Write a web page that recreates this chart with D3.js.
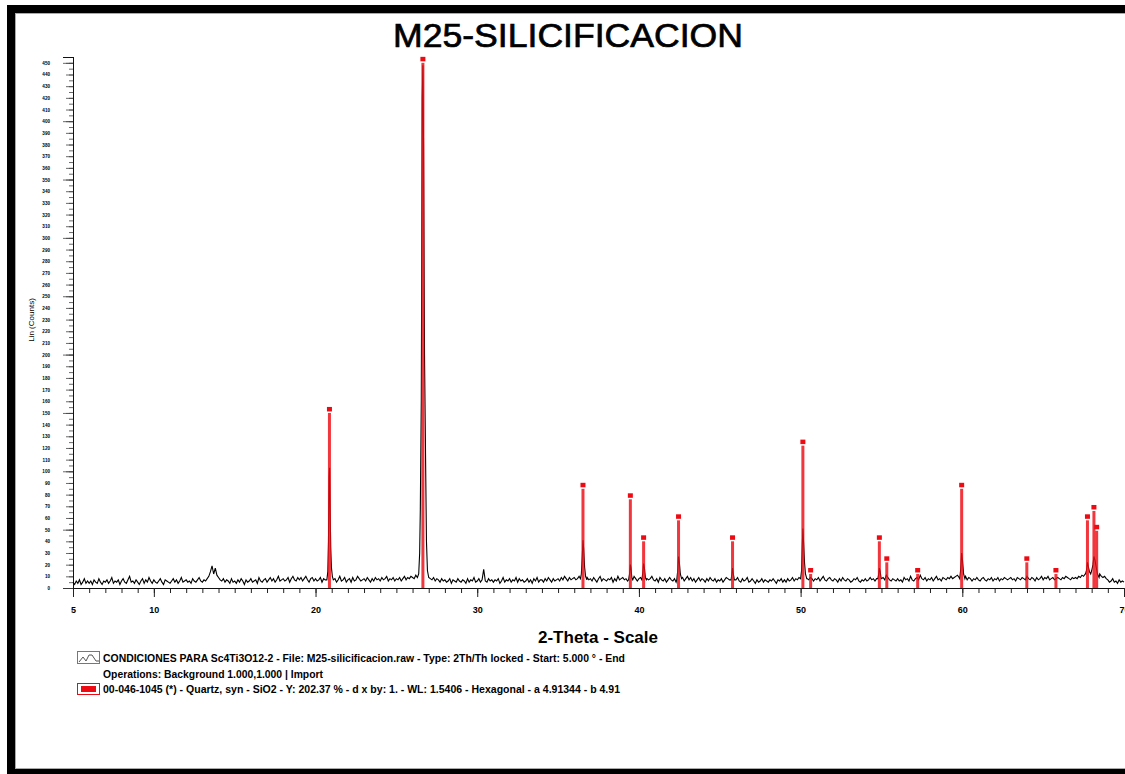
<!DOCTYPE html>
<html>
<head>
<meta charset="utf-8">
<script src="https://cdn.jsdelivr.net/npm/d3@7"></script>
<style>
  html, body { margin: 0; padding: 0; background: #fff; }
  svg { display: block; }
</style>
</head>
<body>
<svg id="chart" width="1125" height="774"></svg>
<script>
// ---- Scan: Lin (Counts) every 0.1 deg 2-theta, starting at 5.0 ----
const scanStart = 5.0;
const scanStep = 0.1;
const scanCounts = [
  5,3,6,4,7,3,5,8,4,6,   4,6,3,7,5,4,8,5,3,6,   5,7,4,6,9,4,6,5,7,3,   6,8,5,4,7,10,5,6,4,7,
  5,3,6,8,4,7,5,9,6,4,   7,5,4,6,8,5,3,7,6,5,   4,6,8,5,7,4,6,9,5,6,   7,5,6,4,8,6,5,7,9,6,
  5,7,6,8,10,14,19,12,17,11, 9,7,6,8,5,7,6,4,8,5, 6,4,7,5,8,6,3,7,5,6, 8,5,6,7,4,9,6,5,7,8,
  5,7,9,6,8,5,7,10,6,7,  8,6,7,9,5,8,10,7,6,9,  7,9,6,8,10,7,5,8,9,6,  8,6,7,9,5,8,7,6,8,7,
  9,6,8,5,7,10,6,7,9,5,  7,8,5,9,6,7,10,8,6,7,  8,6,9,7,5,8,6,9,7,8,   6,9,7,8,10,6,8,7,9,6,
  8,7,9,6,8,10,7,9,8,10, 9,8,11,9,10,12,14,13,11,10, 9,8,7,9,6,8,7,5,8,6, 7,5,6,8,4,7,6,5,8,6,
  5,7,6,4,8,5,7,6,9,5,   6,8,5,7,16,6,5,8,6,7,  5,7,6,8,4,6,9,5,7,6,   8,5,7,6,9,5,8,6,7,5,
  6,8,5,7,4,8,6,9,5,7,   7,5,8,6,9,7,5,8,6,7,   8,6,9,7,10,8,6,9,7,8,  9,7,8,10,8,9,8,8,9,7,
  8,6,9,7,5,8,10,6,8,7,  6,8,7,9,5,8,6,10,7,8,  9,7,8,6,9,8,7,10,8,6,  8,9,7,6,9,8,7,8,10,7,
  6,8,5,9,7,6,8,5,7,9,   7,6,8,5,9,8,7,9,6,8,   10,7,9,6,8,5,7,9,6,8,  7,5,8,6,9,7,6,8,5,7,
  6,8,5,7,9,8,7,6,8,5,   7,9,6,5,8,6,7,9,5,6,   8,6,4,7,5,6,8,5,7,6,   5,7,6,8,6,4,7,6,8,5,
  7,5,8,6,7,9,6,8,7,9,   8,10,9,11,8,7,9,8,6,8, 7,9,6,8,10,7,6,8,9,7,  6,8,7,5,8,6,9,7,6,8,
  7,5,6,8,7,9,6,5,7,6,   8,6,7,9,7,8,6,8,9,7,   8,9,7,11,9,7,6,8,7,6,  8,6,7,5,9,7,8,6,10,7,
  6,8,9,7,11,8,7,9,6,8,  7,9,6,8,10,7,8,6,9,8,  7,9,8,10,8,9,10,11,9,10, 9,8,10,7,9,8,6,8,7,9,
  7,6,8,9,7,6,8,7,9,6,   8,7,9,6,8,7,9,8,7,8,   9,7,8,6,9,8,7,9,8,7,   10,8,7,9,8,6,9,7,8,10,
  7,9,8,10,7,8,9,7,8,9,  8,7,9,8,10,9,8,7,9,8,  9,8,10,9,11,10,12,14,16,14, 18,20,14,16,15,12,10,9,10,8,
  7,5,6,8,5,6,4,7,5,6,
  5
];

// ---- Peak profiles sampled more finely (replace the coarse scan inside their range) ----
const profileTheta = [
  [20.70, 20.76, 20.80, 20.84, 20.87, 20.90, 20.94, 20.98, 21.04, 21.10],
  [26.30, 26.38, 26.44, 26.48, 26.54, 26.60, 26.64, 26.68, 26.74, 26.80, 26.86, 26.92, 27.00],
  [36.38, 36.44, 36.50, 36.54, 36.58, 36.64, 36.70, 36.78],
  [39.36, 39.42, 39.47, 39.51, 39.56, 39.62],
  [40.18, 40.24, 40.29, 40.34, 40.40, 40.46],
  [42.34, 42.40, 42.45, 42.50, 42.56, 42.64],
  [45.70, 45.75, 45.79, 45.84, 45.90],
  [50.00, 50.06, 50.10, 50.14, 50.18, 50.24, 50.30, 50.38],
  [54.78, 54.83, 54.87, 54.92, 54.98],
  [59.84, 59.90, 59.96, 60.01, 60.08, 60.16],
  [67.62, 67.68, 67.74, 67.80, 67.86, 67.94, 68.02, 68.08, 68.14, 68.20, 68.28, 68.36, 68.46]
];
const profileCounts = [
  [7, 14, 40, 95, 103, 70, 35, 18, 10, 7],
  [9, 12, 30, 67, 160, 420, 448, 380, 200, 118, 40, 15, 9],
  [8, 12, 28, 41, 34, 18, 10, 7],
  [7, 12, 20, 17, 9, 7],
  [7, 13, 21, 17, 9, 7],
  [7, 15, 27, 22, 12, 8],
  [7, 12, 17, 12, 7],
  [8, 15, 35, 51, 40, 22, 12, 8],
  [8, 12, 17, 14, 8],
  [8, 16, 30, 24, 12, 8],
  [12, 15, 22, 18, 14, 12, 16, 20, 27, 24, 18, 12, 9]
];

// ---- Reference pattern 00-046-1045 Quartz (stick positions and scaled heights) ----
const quartzTheta  = [20.86, 26.64, 36.54, 39.47, 40.29, 42.45, 45.79, 50.14, 50.62, 54.87, 55.33, 57.24, 59.96, 63.99, 65.79, 67.74, 68.14, 68.31];
const quartzCounts = [150, 450, 85, 76, 40, 58, 40, 122, 12, 40, 22, 12, 85, 22, 12, 58, 66, 49];

// ---- Axis ticks ----
const xMajorTicks = [5, 10, 20, 30, 40, 50, 60, 70];
const xMinorTicks = d3.range(5, 71, 1);
const yLabelTicks = d3.range(0, 451, 10);
const yMinorTicks = d3.range(0, 456, 5);
const yLongTicks = d3.range(0, 451, 50);

// ---- Texts ----
const chartTitle = "M25-SILICIFICACION";
const xTitle = "2-Theta - Scale";
const yTitle = "Lin (Counts)";
const legendLines = [
  "CONDICIONES PARA Sc4Ti3O12-2 - File: M25-silicificacion.raw - Type: 2Th/Th locked - Start: 5.000 \u00B0 - End",
  "Operations: Background 1.000,1.000 | Import",
  "00-046-1045 (*) - Quartz, syn - SiO2 - Y: 202.37 % - d x by: 1. - WL: 1.5406 - Hexagonal - a 4.91344 - b 4.91"
];

(function draw() {
  const svg = d3.select("#chart");
  const W = 1125, H = 774;
  const plotL = 73, plotR = 1124, plotT = 57, plotB = 588;
  const RED = "#ee0a12";
  const axisFont = "'Liberation Sans', Arial, sans-serif";

  const x = d3.scaleLinear().domain([5, 70]).range([plotL, plotR]);
  const y = d3.scaleLinear().domain([0, 455]).range([plotB, plotT]);

  // page frame
  svg.append("rect").attr("x", 0).attr("y", 0).attr("width", W).attr("height", H).attr("fill", "#fff");
  svg.append("rect").attr("x", 7).attr("y", 5).attr("width", W - 7).attr("height", 8).attr("fill", "#000");
  svg.append("rect").attr("x", 7).attr("y", 5).attr("width", 8).attr("height", H - 5).attr("fill", "#000");
  svg.append("rect").attr("x", 7).attr("y", 769).attr("width", W - 7).attr("height", 5).attr("fill", "#000");
  svg.append("line").attr("x1", 15).attr("x2", W).attr("y1", 13.5).attr("y2", 13.5).attr("stroke", "#aaa").attr("stroke-width", 1);
  svg.append("line").attr("x1", 15.5).attr("x2", 15.5).attr("y1", 13).attr("y2", 769).attr("stroke", "#aaa").attr("stroke-width", 1);
  svg.append("line").attr("x1", 15).attr("x2", W).attr("y1", 768.5).attr("y2", 768.5).attr("stroke", "#aaa").attr("stroke-width", 1);

  // title
  svg.append("text")
    .attr("x", 568).attr("y", 47)
    .attr("text-anchor", "middle")
    .attr("font-family", axisFont)
    .attr("font-size", 34)
    .attr("textLength", 350).attr("lengthAdjust", "spacingAndGlyphs")
    .attr("fill", "#000")
    .attr("stroke", "#000").attr("stroke-width", 0.7)
    .text(chartTitle);

  // ---- X axis ----
  const gxMinor = svg.append("g").attr("transform", `translate(0,${plotB})`)
    .call(d3.axisBottom(x).tickValues(xMinorTicks).tickSize(5).tickFormat(""));
  const gxMajor = svg.append("g").attr("transform", `translate(0,${plotB})`)
    .call(d3.axisBottom(x).tickValues(xMajorTicks).tickSize(9).tickPadding(10).tickFormat(d3.format("d")));
  [gxMinor, gxMajor].forEach(g => {
    g.select(".domain").attr("stroke", "#111").attr("stroke-width", 1);
    g.selectAll(".tick line").attr("stroke", "#222").attr("stroke-width", 1);
  });
  gxMajor.selectAll(".tick text")
    .attr("font-family", axisFont).attr("font-size", 9).attr("font-weight", "bold").attr("fill", "#000");

  // ---- Y axis ----
  const gyMinor = svg.append("g").attr("transform", `translate(${plotL},0)`)
    .call(d3.axisLeft(y).tickValues(yMinorTicks).tickSize(4).tickFormat(""));
  const gyMid = svg.append("g").attr("transform", `translate(${plotL},0)`)
    .call(d3.axisLeft(y).tickValues(yLabelTicks).tickSize(7).tickPadding(16).tickFormat(d3.format("d")));
  const gyLong = svg.append("g").attr("transform", `translate(${plotL},0)`)
    .call(d3.axisLeft(y).tickValues(yLongTicks).tickSize(10).tickFormat(""));
  [gyMinor, gyMid, gyLong].forEach(g => {
    g.select(".domain").attr("stroke", "#111").attr("stroke-width", 1);
    g.selectAll(".tick line").attr("stroke", "#444").attr("stroke-width", 0.8);
  });
  gyMid.selectAll(".tick text")
    .attr("font-family", axisFont).attr("font-size", 4.6).attr("font-weight", "bold").attr("fill", "#000");

  // axis titles
  svg.append("text")
    .attr("x", 598).attr("y", 643)
    .attr("text-anchor", "middle")
    .attr("font-family", axisFont).attr("font-size", 16).attr("font-weight", "bold")
    .attr("textLength", 120).attr("lengthAdjust", "spacingAndGlyphs")
    .text(xTitle);
  svg.append("text")
    .attr("transform", "translate(34,320) rotate(-90)")
    .attr("text-anchor", "middle")
    .attr("font-family", axisFont).attr("font-size", 8)
    .text(yTitle);

  // ---- Measured scan line ----
  const points = [];
  scanCounts.forEach((c, i) => {
    const t = +(scanStart + i * scanStep).toFixed(2);
    const inside = profileTheta.some(p => t >= p[0] && t <= p[p.length - 1]);
    if (!inside) points.push([t, c]);
  });
  profileTheta.forEach((p, k) => p.forEach((t, j) => points.push([t, profileCounts[k][j]])));
  points.sort((a, b) => a[0] - b[0]);

  svg.append("path")
    .datum(points)
    .attr("fill", "none")
    .attr("stroke", "#000")
    .attr("stroke-width", 1.1)
    .attr("stroke-linejoin", "miter")
    .attr("d", d3.line().x(d => x(d[0])).y(d => y(d[1])));

  // ---- Quartz sticks with square markers ----
  const sticks = quartzTheta.map((t, i) => ({ t, c: quartzCounts[i] }));
  const gs = svg.append("g");
  gs.selectAll("rect.stick").data(sticks).join("rect")
    .attr("class", "stick")
    .attr("x", d => x(d.t) - 1.5)
    .attr("y", d => y(d.c))
    .attr("width", 3)
    .attr("height", d => y(0) - y(d.c))
    .attr("fill", RED).attr("fill-opacity", 0.82);
  gs.selectAll("rect.mark").data(sticks).join("rect")
    .attr("class", "mark")
    .attr("x", d => x(d.t) - 2.5)
    .attr("y", d => y(d.c) - 6)
    .attr("width", 5)
    .attr("height", 4.5)
    .attr("fill", RED);

  // ---- Legend ----
  const lg = svg.append("g");
  lg.append("rect").attr("x", 77.5).attr("y", 651.5).attr("width", 22).attr("height", 12)
    .attr("fill", "#fff").attr("stroke", "#777").attr("stroke-width", 1);
  lg.append("path")
    .attr("d", "M79,662 L83,657 L86,661 L89,655 L92,655 L96,661 L99,661")
    .attr("fill", "none").attr("stroke", "#555").attr("stroke-width", 1);
  lg.append("rect").attr("x", 77.5).attr("y", 683.5).attr("width", 22).attr("height", 11)
    .attr("fill", "#fff").attr("stroke", RED).attr("stroke-width", 1);
  lg.append("rect").attr("x", 81).attr("y", 686).attr("width", 15).attr("height", 6).attr("fill", RED);

  const legendY = [662, 677.5, 693];
  const legendW = [522, 220, 517];
  legendLines.forEach((s, i) => {
    lg.append("text")
      .attr("x", 103).attr("y", legendY[i])
      .attr("font-family", "'Liberation Sans Narrow', 'Liberation Sans', Arial, sans-serif")
      .attr("font-size", 10).attr("font-weight", "bold")
      .attr("textLength", legendW[i]).attr("lengthAdjust", "spacingAndGlyphs")
      .attr("fill", "#000")
      .text(s);
  });
})();
</script>
</body>
</html>
